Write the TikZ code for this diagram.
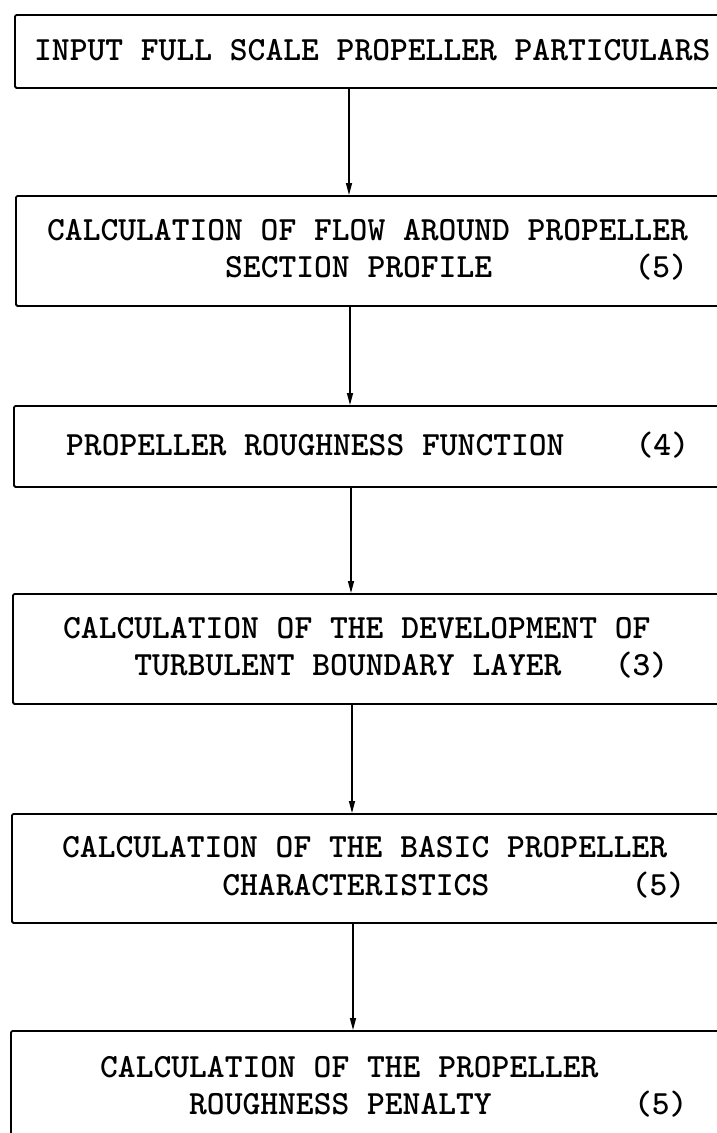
\documentclass[tikz,border=0pt]{standalone}
\usepackage{fontspec}
\setmainfont{lmmonolt10-bold.otf}
\usetikzlibrary{arrows.meta}
\newcommand{\chsp}[1]{\hspace*{#1\dimexpr 0.525em\relax}}
\begin{document}
\begin{tikzpicture}[x=1pt,y=-1pt,
  box/.style={draw, line width=1.8pt, rounded corners=1.5pt, inner sep=0pt,
    minimum width=730pt, anchor=north west},
  lbl/.style={anchor=west, inner sep=0pt, align=left,
    font=\fontsize{33.9pt}{37.5pt}\selectfont},
  arr/.style={-{Triangle[length=12pt,width=6pt]}, line width=1.4pt}]
\useasboundingbox (0,0) rectangle (716,1133);
\node[box, minimum height=73pt]  (b1) at (14,14)   {};
\node[box, minimum height=110pt] (b2) at (15,195)  {};
\node[box, minimum height=81pt]  (b3) at (13,405)  {};
\node[box, minimum height=110pt] (b4) at (12,593)  {};
\node[box, minimum height=109pt] (b5) at (11,813)  {};
\node[box, minimum height=200pt] (b6) at (10,1030) {};
\node[lbl] (t1) at (34,50.5) {INPUT\chsp{1}FULL\chsp{1}SCALE\chsp{1}PROPELLER\chsp{1}PARTICULARS};
\node[lbl] (t2) at (47,250) {CALCULATION\chsp{1}OF\chsp{1}FLOW\chsp{1}AROUND\chsp{1}PROPELLER\\
  \chsp{10}SECTION\chsp{1}PROFILE\chsp{8}(5)};
\node[lbl] (t3) at (66,445.5) {PROPELLER\chsp{1}ROUGHNESS\chsp{1}FUNCTION\chsp{4}(4)};
\node[lbl] (t4) at (63,648) {CALCULATION\chsp{1}OF\chsp{1}THE\chsp{1}DEVELOPMENT\chsp{1}OF\\
  \chsp{4}TURBULENT\chsp{1}BOUNDARY\chsp{1}LAYER\chsp{3}(3)};
\node[lbl] (t5) at (62,867.5) {CALCULATION\chsp{1}OF\chsp{1}THE\chsp{1}BASIC\chsp{1}PROPELLER\\
  \chsp{9}CHARACTERISTICS\chsp{8}(5)};
\node[lbl] (t6) at (100,1087) {CALCULATION\chsp{1}OF\chsp{1}THE\chsp{1}PROPELLER\\
  \chsp{5}ROUGHNESS\chsp{1}PENALTY\chsp{8}(5)};
\coordinate (a1) at (349,0);
\coordinate (a2) at (350,0);
\coordinate (a3) at (351,0);
\coordinate (a4) at (352,0);
\coordinate (a5) at (353,0);
\draw[arr] (b1.south -| a1) -- (b2.north -| a1);
\draw[arr] (b2.south -| a2) -- (b3.north -| a2);
\draw[arr] (b3.south -| a3) -- (b4.north -| a3);
\draw[arr] (b4.south -| a4) -- (b5.north -| a4);
\draw[arr] (b5.south -| a5) -- (b6.north -| a5);
\end{tikzpicture}
\end{document}
